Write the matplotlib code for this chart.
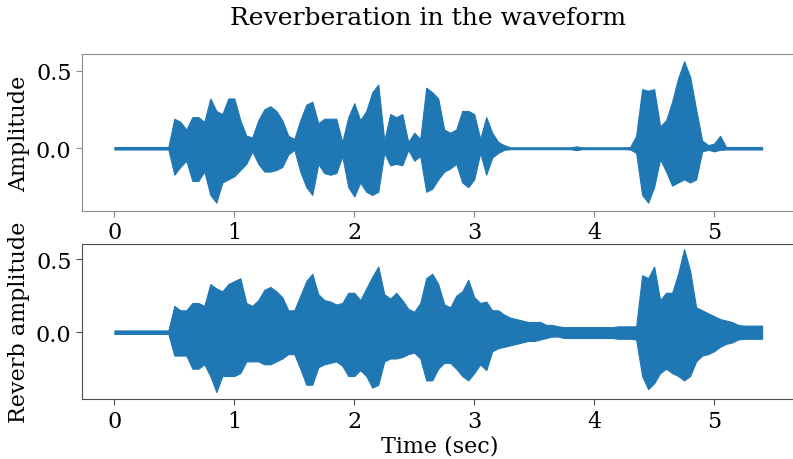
import numpy as np
import matplotlib
matplotlib.use('Agg')
import matplotlib.pyplot as plt

plt.rcParams['font.family'] = 'serif'
plt.rcParams['font.serif'] = ['DejaVu Serif']

# amplitude envelope of the dry signal, one value every 0.05 s
dry_hi = [0.008, 0.008, 0.008, 0.008, 0.008, 0.008, 0.008, 0.008, 0.008, 0.008,
          0.19, 0.17, 0.12, 0.20, 0.20, 0.17, 0.32, 0.24, 0.22, 0.32,
          0.32, 0.18, 0.08, 0.07, 0.18, 0.25, 0.27, 0.24, 0.18, 0.08,
          0.06, 0.18, 0.28, 0.30, 0.16, 0.19, 0.19, 0.19, 0.04, 0.20,
          0.29, 0.18, 0.24, 0.36, 0.41, 0.05, 0.22, 0.20, 0.22, 0.04,
          0.10, 0.06, 0.39, 0.36, 0.32, 0.12, 0.10, 0.12, 0.24, 0.24,
          0.22, 0.06, 0.20, 0.10, 0.04, 0.02, 0.006, 0.006, 0.006, 0.006,
          0.006, 0.006, 0.006, 0.006, 0.006, 0.006, 0.006, 0.012, 0.006, 0.006,
          0.006, 0.006, 0.006, 0.006, 0.006, 0.006, 0.008, 0.08, 0.38, 0.37,
          0.38, 0.14, 0.18, 0.30, 0.45, 0.56, 0.46, 0.25, 0.05, 0.02,
          0.03, 0.08, 0.008, 0.008, 0.008, 0.008, 0.008, 0.008, 0.008]
dry_lo = [-0.008, -0.008, -0.008, -0.008, -0.008, -0.008, -0.008, -0.008, -0.008, -0.008,
          -0.17, -0.12, -0.08, -0.21, -0.21, -0.15, -0.30, -0.35, -0.22, -0.20,
          -0.18, -0.14, -0.10, -0.02, -0.10, -0.15, -0.15, -0.14, -0.12, -0.04,
          -0.01, -0.15, -0.25, -0.30, -0.10, -0.16, -0.17, -0.16, -0.05, -0.25,
          -0.31, -0.22, -0.28, -0.30, -0.28, -0.03, -0.11, -0.10, -0.11, -0.01,
          -0.08, -0.05, -0.28, -0.26, -0.20, -0.15, -0.13, -0.10, -0.22, -0.25,
          -0.20, -0.03, -0.17, -0.06, -0.03, -0.01, -0.006, -0.006, -0.006, -0.006,
          -0.006, -0.006, -0.006, -0.006, -0.006, -0.006, -0.006, -0.012, -0.006, -0.006,
          -0.006, -0.006, -0.006, -0.006, -0.006, -0.006, -0.008, -0.03, -0.30, -0.35,
          -0.25, -0.07, -0.15, -0.24, -0.22, -0.20, -0.22, -0.20, -0.02, -0.01,
          -0.02, -0.01, -0.008, -0.008, -0.008, -0.008, -0.008, -0.008, -0.008]

# same for the reverberated signal
rev_hi = [0.012, 0.012, 0.012, 0.012, 0.012, 0.012, 0.012, 0.012, 0.012, 0.012,
          0.18, 0.15, 0.15, 0.20, 0.20, 0.18, 0.33, 0.30, 0.28, 0.33,
          0.35, 0.37, 0.20, 0.18, 0.22, 0.29, 0.31, 0.28, 0.24, 0.15,
          0.15, 0.25, 0.35, 0.40, 0.26, 0.22, 0.21, 0.19, 0.20, 0.27,
          0.27, 0.22, 0.30, 0.38, 0.45, 0.26, 0.23, 0.27, 0.22, 0.16,
          0.14, 0.20, 0.37, 0.40, 0.33, 0.19, 0.17, 0.25, 0.28, 0.36,
          0.24, 0.20, 0.21, 0.15, 0.15, 0.12, 0.10, 0.09, 0.08, 0.07,
          0.07, 0.07, 0.05, 0.05, 0.04, 0.035, 0.035, 0.035, 0.035, 0.035,
          0.035, 0.035, 0.035, 0.035, 0.04, 0.04, 0.04, 0.04, 0.39, 0.37,
          0.45, 0.22, 0.27, 0.27, 0.40, 0.57, 0.42, 0.17, 0.15, 0.13,
          0.11, 0.09, 0.08, 0.07, 0.05, 0.045, 0.045, 0.045, 0.045]
rev_lo = [-0.012, -0.012, -0.012, -0.012, -0.012, -0.012, -0.012, -0.012, -0.012, -0.012,
          -0.16, -0.16, -0.16, -0.25, -0.25, -0.22, -0.30, -0.41, -0.30, -0.30,
          -0.30, -0.28, -0.20, -0.20, -0.20, -0.22, -0.22, -0.20, -0.18, -0.15,
          -0.15, -0.25, -0.36, -0.36, -0.24, -0.22, -0.21, -0.20, -0.23, -0.30,
          -0.30, -0.26, -0.30, -0.38, -0.36, -0.20, -0.18, -0.18, -0.17, -0.15,
          -0.14, -0.18, -0.33, -0.33, -0.25, -0.21, -0.21, -0.25, -0.30, -0.33,
          -0.28, -0.22, -0.26, -0.13, -0.11, -0.10, -0.09, -0.08, -0.07, -0.06,
          -0.06, -0.05, -0.04, -0.03, -0.03, -0.04, -0.04, -0.04, -0.04, -0.04,
          -0.04, -0.04, -0.04, -0.04, -0.045, -0.045, -0.045, -0.05, -0.30, -0.39,
          -0.35, -0.28, -0.25, -0.28, -0.30, -0.33, -0.30, -0.20, -0.16, -0.15,
          -0.13, -0.10, -0.08, -0.07, -0.05, -0.045, -0.045, -0.045, -0.045]

t = np.arange(len(dry_hi)) * 0.05

fig = plt.figure(figsize=(7.93, 4.6), dpi=100)
ax1 = fig.add_axes([0.1034, 0.539, 0.903, 0.341])
ax2 = fig.add_axes([0.1034, 0.130, 0.903, 0.337])

for ax, hi, lo, spine_col in [(ax1, dry_hi, dry_lo, '#8c8c8c'),
                              (ax2, rev_hi, rev_lo, '#4d4d4d')]:
    ax.fill_between(t, lo, hi, color='#1f77b4', lw=0.8, edgecolor='#1f77b4')
    ax.set_xlim(-0.27, 5.70)
    ax.set_xticks([0, 1, 2, 3, 4, 5])
    ax.set_yticks([0.0, 0.5])
    ax.tick_params(labelsize=16, color=spine_col, length=4)
    for s in ax.spines.values():
        s.set_color(spine_col)
    ax.spines['right'].set_visible(False)

ax1.set_ylim(-0.404, 0.605)
ax2.set_ylim(-0.459, 0.603)
ax1.set_ylabel('Amplitude', fontsize=16)
ax2.set_ylabel('Reverb amplitude', fontsize=16)
ax2.set_xlabel('Time (sec)', fontsize=16, labelpad=2)
fig.suptitle('Reverberation in the waveform', fontsize=18, x=0.54, y=0.96, va='center')

fig.savefig('out.png', dpi=100)
